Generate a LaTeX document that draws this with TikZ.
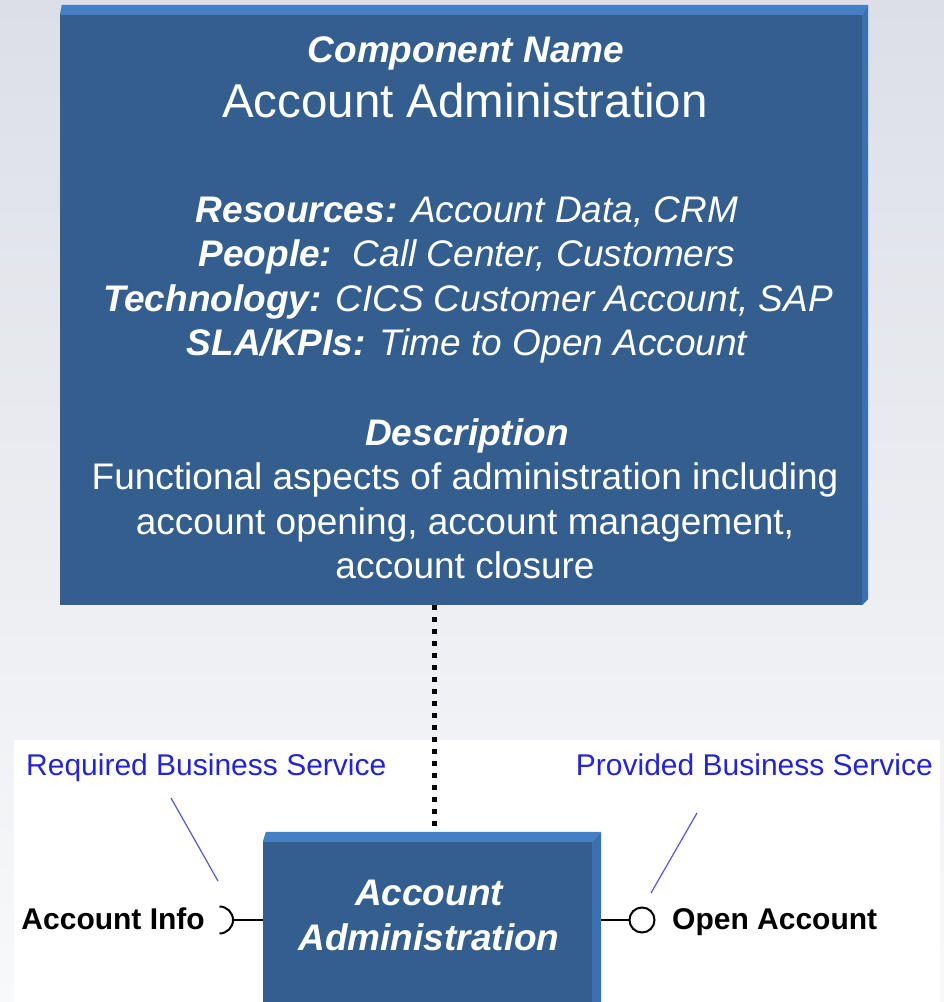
\documentclass[tikz,border=0pt]{standalone}
\usepackage{fontspec}
\setmainfont{Liberation Sans}
\definecolor{boxface}{RGB}{51,94,142}
\definecolor{boxtop}{RGB}{70,128,196}
\definecolor{boxside}{RGB}{60,113,176}
\definecolor{bgtop}{RGB}{220,223,231}
\definecolor{bgbottom}{RGB}{248,249,250}
\definecolor{noteblue}{RGB}{36,36,214}
\definecolor{notepointer}{RGB}{85,85,220}
\begin{document}
\begin{tikzpicture}[x=1pt, y=-1pt,
    face/.style={fill=boxface, draw=none, inner sep=0pt},
    topbevel/.style={fill=boxtop},
    sidebevel/.style={fill=boxside},
    big/.style={white, anchor=base, font=\fontsize{37}{44}\selectfont},
    bigbi/.style={big, font=\fontsize{37}{44}\selectfont\bfseries\itshape},
    bigit/.style={big, font=\fontsize{37}{44}\selectfont\itshape},
    title/.style={big, font=\fontsize{47.5}{57}\selectfont},
    iface/.style={anchor=base, inner sep=0pt, font=\fontsize{30}{36}\selectfont\bfseries},
    note/.style={noteblue, anchor=base, inner sep=0pt, font=\fontsize{30}{36}\selectfont},
    notearrow/.style={notepointer, line width=1.2pt},
    iline/.style={black, line width=2pt},
    dotline/.style={black, line width=5pt, dash pattern=on 5pt off 7pt},
    ball/.style={circle, draw=black, fill=white, line width=2pt, minimum size=25pt, inner sep=0pt}]
  \fill[top color=bgtop, bottom color=bgbottom] (0,0) rectangle (944,1002);
  \fill[white] (14,740) rectangle (940,1002);
  \useasboundingbox (0,0) rectangle (944,1002);

  % component description box
  \node[face, minimum width=802pt, minimum height=590pt] (comp) at (461,310) {};
  \fill[topbevel] (comp.north west) -- ++(2,-10) -- ([shift={(6,-10)}]comp.north east) -- (comp.north east) -- cycle;
  \fill[sidebevel] (comp.north east) -- ++(6,-10) -- ([shift={(6,-6)}]comp.south east) -- (comp.south east) -- cycle;
  \node[bigbi] (cname) at (466,62) {Component Name};
  \node[title] (ctitle) at (465,117) {Account Administration};
  \node[bigit] (res) at (467,222) {\textbf{Resources:} Account Data, CRM};
  \node[bigit] (ppl) at (467,266.5) {\textbf{People:}\ \ Call Center, Customers};
  \node[bigit] (tech) at (468,311) {\textbf{Technology:} CICS Customer Account, SAP};
  \node[bigit] (sla) at (467,355.5) {\textbf{SLA/KPIs:} Time to Open Account};
  \node[bigbi] (dhead) at (467,445) {Description};
  \node[big] (d1) at (465,489) {Functional aspects of administration including};
  \node[big] (d2) at (465,534) {account opening, account management,};
  \node[big] (d3) at (465,578) {account closure};

  % component box
  \node[face, minimum width=329pt, minimum height=160pt] (svc) at (427.5,922) {};
  \fill[topbevel] (svc.north west) -- ++(3,-10) -- ([shift={(9,-10)}]svc.north east) -- (svc.north east) -- cycle;
  \fill[sidebevel] (svc.north east) -- ++(9,-10) -- ([xshift=9]svc.south east) -- (svc.south east) -- cycle;
  \node[bigbi] (svc1) at (429,905) {Account};
  \node[bigbi] (svc2) at (429,950) {Administration};

  \draw[dotline] ([xshift=6.5]comp.south -| svc.north) -- ([shift={(6.5,-14)}]svc.north);

  % required interface
  \coordinate (sock) at (233,920);
  \draw[iline] (sock) ++(-13.5,-13.5) arc[start angle=-90, end angle=90, radius=13.5];
  \draw[iline] (sock) -- (sock -| svc.west);
  \node[iface, anchor=base east] (reqname) at (205,929) {Account Info};

  % provided interface
  \node[ball] (ball) at (642,920) {};
  \draw[iline] ([xshift=9]svc.east |- ball.west) -- (ball.west);
  \node[iface, anchor=base west] (provname) at (672,929) {Open Account};

  % notes
  \node[note, anchor=base west] (reqnote) at (26,775) {Required Business Service};
  \node[note, anchor=base east] (provnote) at (933,775) {Provided Business Service};
  \coordinate (reqtail) at (171,798);
  \coordinate (reqtip) at (218,881);
  \coordinate (provtail) at (697,813);
  \coordinate (provtip) at (651,893);
  \draw[notearrow] (reqtail) -- (reqtip);
  \draw[notearrow] (provtail) -- (provtip);
\end{tikzpicture}
\end{document}
